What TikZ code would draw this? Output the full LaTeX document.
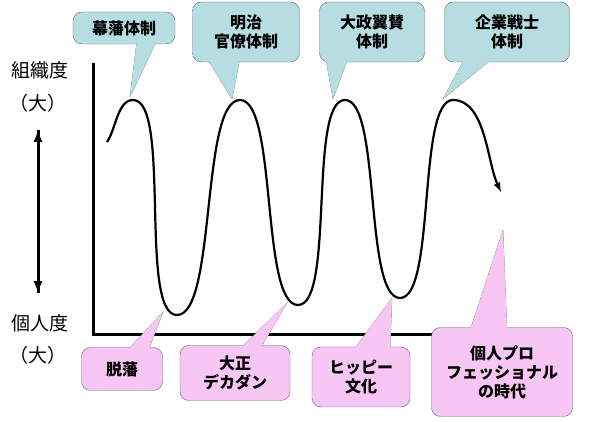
\documentclass[tikz,border=0pt]{standalone}
\usepackage{fontspec}
\setmainfont{Noto Sans CJK JP}
\definecolor{boxblue}{HTML}{B6DDE2}
\definecolor{boxpink}{HTML}{F8C6F5}
\tikzset{
  upper/.style={rectangle,rounded corners=9pt,draw=black!60,fill=boxblue,
    inner sep=0pt,font=\fontsize{16}{19}\selectfont\bfseries,align=center},
  lower/.style={upper,fill=boxpink},
  wedge/.style={draw=black!60,fill=#1},
}
\newcommand{\tail}[8]{% colour, tip, base1, base2, options, name, position, text
  \filldraw[wedge=#1] #2 -- #3 -- #4 -- cycle;
  \node[#5] (#6) at #7 {#8};
  \fill[#1] #2 -- #3 -- #4 -- cycle;}
\begin{document}
\begin{tikzpicture}[x=1pt,y=1pt]
    \useasboundingbox (0,0) rectangle (600,422);
    % axes
    \coordinate (O) at (93,87);
    \coordinate (T) at (93,359);
    \coordinate (R) at (565,87);
    \draw[line width=3pt] (T) -- (O) -- (R);
    % left labels
    \node[font=\fontsize{19}{22}\selectfont] (org) at (40,352) {組織度};
    \node[font=\fontsize{19}{22}\selectfont] (orgb) at (38,319) {（大）};
    \node[font=\fontsize{19}{22}\selectfont] (ind) at (40,99) {個人度};
    \node[font=\fontsize{19}{22}\selectfont] (indb) at (38,67) {（大）};
    \coordinate (up) at (38,292);
    \coordinate (dn) at (38,129);
    \draw[line width=3pt,-latex] (dn) -- (up);
    \draw[line width=3pt,-latex] (up) -- (dn);
    % wave
    \coordinate (s) at (107,280);
    \coordinate (p1) at (133,322);
    \coordinate (t1) at (177,107);
    \coordinate (p2) at (240,322);
    \coordinate (t2) at (298,117);
    \coordinate (p3) at (345,322);
    \coordinate (t3) at (400,124);
    \coordinate (p4) at (453,322);
    \coordinate (e) at (501,230);
    \draw[line width=2.2pt,-latex,looseness=0.45] (s) to[out=55,in=180,looseness=0.8] (p1) to[out=0,in=180] (t1)
      to[out=0,in=180] (p2) to[out=0,in=180] (t2) to[out=0,in=180] (p3)
      to[out=0,in=180] (t3) to[out=0,in=180] (p4) to[out=0,in=115,looseness=0.8] (e);
    % callouts
    \tail{boxblue}{(130,325)}{(137,382)}{(157,382)}{upper,minimum width=102pt,minimum height=32pt}{bakuhan}{(124,394)}{幕藩体制}
    \tail{boxblue}{(232,323)}{(207,364)}{(240,364)}{upper,minimum width=107pt,minimum height=60pt}{meiji}{(246,390)}{明治\\官僚体制}
    \tail{boxblue}{(333,323)}{(325,368)}{(348,364)}{upper,minimum width=105pt,minimum height=60pt}{taisei}{(372,390)}{大政翼賛\\体制}
    \tail{boxblue}{(443,323)}{(465,364)}{(493,364)}{upper,minimum width=125pt,minimum height=60pt}{kigyo}{(507,390)}{企業戦士\\体制}
    \tail{boxpink}{(163,110)}{(127,71)}{(148,71)}{lower,minimum width=81pt,minimum height=43pt}{dappan}{(122,53)}{脱藩}
    \tail{boxpink}{(287,119)}{(240,73)}{(260,73)}{lower,minimum width=110pt,minimum height=55pt}{taisho}{(235,49)}{大正\\デカダン}
    \tail{boxpink}{(392,124)}{(353,71)}{(390,71)}{lower,minimum width=98pt,minimum height=60pt}{hippie}{(361,45)}{ヒッピー\\文化}
    \tail{boxpink}{(503,192)}{(470,91)}{(507,91)}{lower,minimum width=141pt,minimum height=89pt}{kojin}{(502,50)}{個人プロ\\フェッショナル\\の時代}
\end{tikzpicture}
\end{document}
